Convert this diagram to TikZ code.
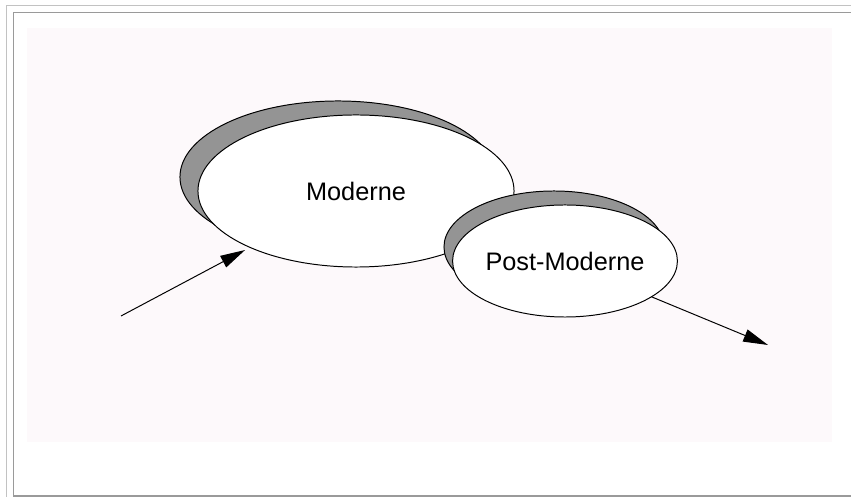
\documentclass[tikz,border=0pt]{standalone}
\usepackage{fontspec}
\setmainfont{Liberation Sans}
\usetikzlibrary{shapes.geometric,arrows.meta}
\definecolor{bgpink}{HTML}{FDF9FB}
\definecolor{framegray}{HTML}{9A9A9A}
\begin{document}
\begin{tikzpicture}[x=0.025cm,y=-0.025cm]

\tikzstyle{bubble} = [draw,ellipse,fill=white,inner sep=0,outer sep=0,line width=0.7pt]
\tikzstyle{shade} = [draw,ellipse,fill=black!42,inner sep=0,outer sep=0,line width=0.7pt]
\tikzstyle{flow} = [line width=0.7pt,-{Triangle[length=0.62cm,width=0.32cm]}]

\useasboundingbox (0,0) rectangle (851,497);
\draw [framegray!60,line width=1.4pt] (851,5.5) -- (6.5,5.5) -- (6.5,497);
\draw [framegray,line width=1pt] (851,12.5) -- (13.5,12.5) -- (13.5,496) -- (851,496);
\fill [bgpink] (27,28) rectangle (832,442);

\node [shade,minimum width=7.9cm,minimum height=3.8cm] (modshadow) at (338,177) {};
\node [bubble,minimum width=7.9cm,minimum height=3.8cm] (moderne) at (356,191) {\fontsize{18}{20}\selectfont Moderne};

\node [shade,minimum width=5.5cm,minimum height=2.8cm] (postshadow) at (554,247) {};
\node [bubble,minimum width=5.5cm,minimum height=2.8cm] (postmod) at (565,261) {\fontsize{18}{20}\selectfont Post-Moderne};

\coordinate (in) at (121,316);
\coordinate (out) at (768,345);

\draw [flow,shorten >=0.14cm] (in) -- (moderne);
\draw [flow] (postmod) -- (out);
\end{tikzpicture}
\end{document}
